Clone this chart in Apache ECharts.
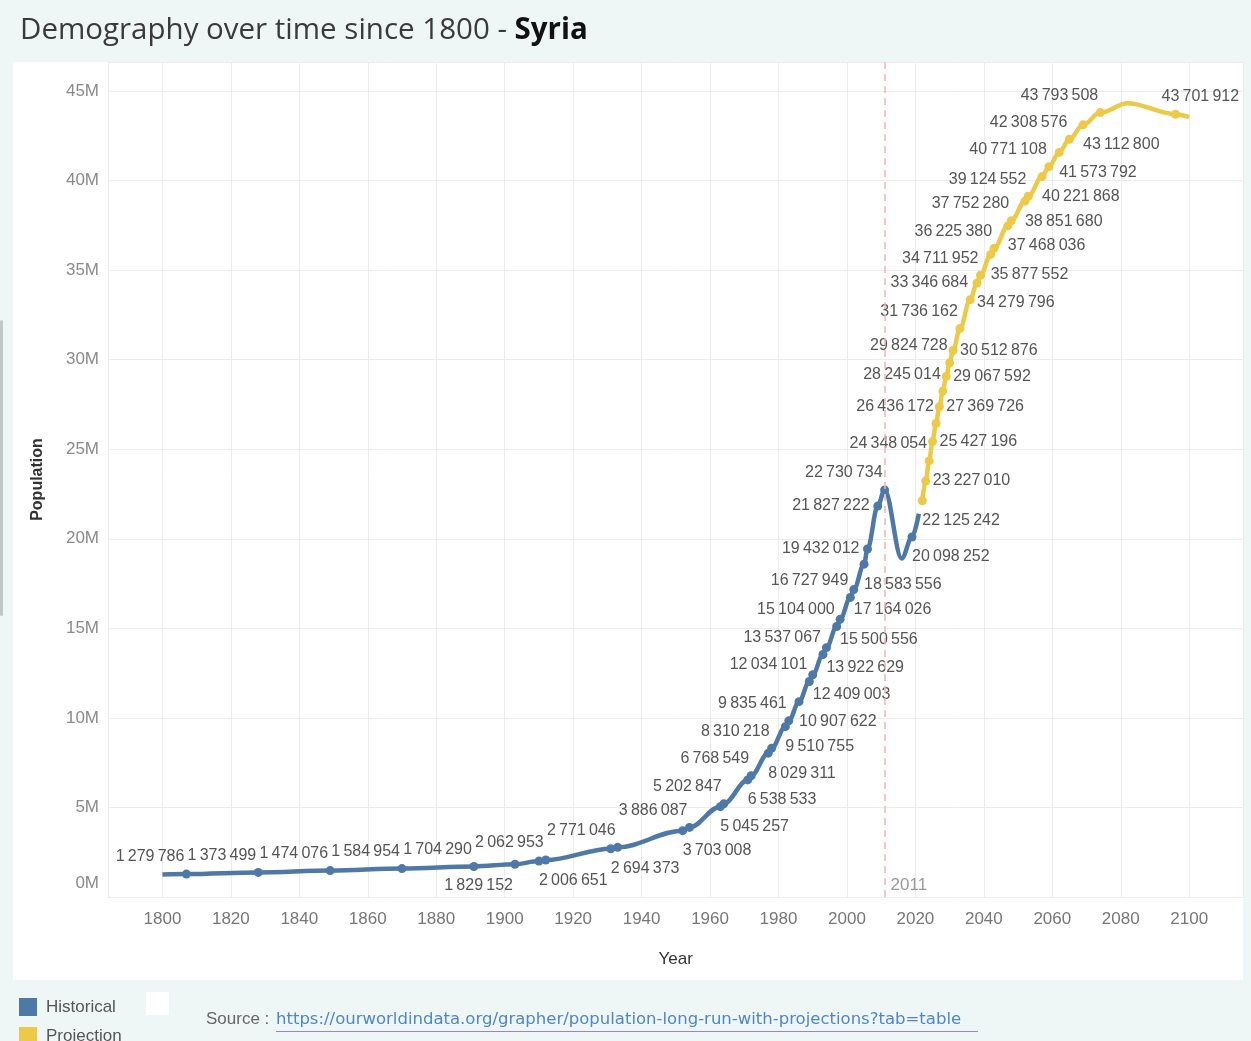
<!DOCTYPE html>
<html>
<head>
<meta charset="utf-8">
<script src="https://cdn.jsdelivr.net/npm/echarts@6/dist/echarts.min.js"></script>
<style>
  html, body { margin: 0; padding: 0; background: #eff7f6; }
  #wrap { position: relative; width: 1251px; height: 1041px; overflow: hidden; background: #eff7f6; }
  #panel { position: absolute; left: 13px; top: 62px; width: 1230px; height: 918px; background: #ffffff; }
  #scroll { position: absolute; left: 0px; top: 320px; width: 3px; height: 296px; background: #c3c6c6; border-radius: 2px; }
  #sq { position: absolute; left: 146px; top: 992px; width: 23px; height: 23px; background: #ffffff; }
  #chart { position: absolute; left: 0; top: 0; width: 1251px; height: 1041px; }
</style>
</head>
<body>
<div id="wrap">
  <div id="panel"></div>
  <div id="scroll"></div>
  <div id="sq"></div>
  <div id="chart"></div>
</div>
<script>
// ---------- data ----------
const histYears = [1807,1828,1849,1870,1891,1903,1910,1912,1931,1933,1952,1954,1963,1964,1971,1972,1977,1978,1982,1983,1986,1989,1990,1993,1994,1997,1998,2001,2002,2005,2006,2009,2011,2019];
const histValues = [1279786,1373499,1474076,1584954,1704290,1829152,2006651,2062953,2694373,2771046,3703008,3886087,5045257,5202847,6538533,6768549,8029311,8310218,9510755,9835461,10907622,12034101,12409003,13537067,13922629,15104000,15500556,16727949,17164026,18583556,19432012,21827222,22730734,20098252];
// unmarked points of the historical curve
const histLineYears = [1800, 2016, 2021];
const histLineValues = [1260000, 18900000, 21400000];

const projYears = [2022,2023,2024,2025,2026,2027,2028,2029,2030,2031,2033,2036,2038,2039,2042,2043,2047,2048,2052,2053,2057,2059,2062,2065,2069,2074,2096];
const projValues = [22125242,23227010,24348054,25427196,26436172,27369726,28245014,29067592,29824728,30512876,31736162,33346684,34279796,34711952,35877552,36225380,37468036,37752280,38851680,39124552,40221868,40771108,41573792,42308576,43112800,43793508,43701912];
// unmarked points of the projection curve
const projLineYears = [2082, 2100];
const projLineValues = [44320000, 43540000];

const yTicks = [0, 5, 10, 15, 20, 25, 30, 35, 40, 45];
const refYear = 2011;

// label placement (style only)
const histLabelSide = ['L','L','L','L','L','LB','RB','L','RB','L','RB','L','RB','L','RB','L','RB','L','RB','L','RB','L','RB','L','RB','L','RB','L','RB','RB','LM','LM','L','RB'];
const projLabelSide = ['RB','RM','L','RM','L','RM','L','RM','L','RM','L','L','RB','L','RB','L','RB','L','RB','L','RB','L','RB','L','RB','L','T'];

const SIDE = {
  L:  { align: 'right', offset: [-2, -17] },
  LB: { align: 'right', offset: [-2, 21] },
  RB: { align: 'left',  offset: [0, 20] },
  LM: { align: 'right', offset: [-8, 0] },
  RM: { align: 'left',  offset: [7, 0] },
  T:  { align: 'left',  offset: [-14, -18] }
};

const FONT = '"Liberation Sans", "DejaVu Sans", sans-serif';
const TITLE_FONT = '"Open Sans", "Liberation Sans", sans-serif';
const LINK_FONT = '"DejaVu Sans", "Liberation Sans", sans-serif';

function fmt(v) {
  return String(v).replace(/\B(?=(\d{3})+(?!\d))/g, '\u2009');
}

function buildData(years, values, sides, lineYears, lineValues) {
  const items = [];
  years.forEach((y, i) => {
    const s = SIDE[sides[i]];
    items.push({
      value: [y, values[i]],
      label: {
        show: true,
        position: 'inside',
        align: s.align,
        verticalAlign: 'middle',
        offset: s.offset,
        formatter: fmt(values[i])
      }
    });
  });
  lineYears.forEach((y, i) => {
    items.push({ value: [y, lineValues[i]], symbol: 'none', label: { show: false } });
  });
  items.sort((a, b) => a.value[0] - b.value[0]);
  return items;
}

const BLUE = '#4e79a7';
const YELLOW = '#edc948';

const labelStyle = {
  color: '#555555',
  fontSize: 16,
  fontFamily: FONT
};

const legendBase = {
  orient: 'vertical',
  left: 19,
  icon: 'rect',
  itemWidth: 18,
  itemHeight: 18,
  padding: 0,
  textStyle: { fontSize: 17, color: '#555555', fontFamily: FONT, padding: [0, 0, 0, 4] }
};

const chart = echarts.init(document.getElementById('chart'), null, { renderer: 'canvas' });

const option = {
  animation: false,
  backgroundColor: 'transparent',
  title: {
    left: 20,
    top: 16,
    padding: 0,
    text: '{a|Demography over time since 1800 - }{b|Syria}',
    textStyle: {
      rich: {
        a: { fontSize: 29.5, color: '#3a3a3a', fontFamily: TITLE_FONT, fontWeight: 'normal' },
        b: { fontSize: 29.5, color: '#111111', fontFamily: TITLE_FONT, fontWeight: 'bold' }
      }
    }
  },
  legend: [
    Object.assign({}, legendBase, { top: 998, data: ['Historical'] }),
    Object.assign({}, legendBase, { top: 1027, data: ['Projection'] })
  ],
  grid: { left: 108, right: 7.7, top: 62, bottom: 144, containLabel: false },
  xAxis: {
    type: 'value',
    min: 1784.1,
    max: 2115.8,
    minInterval: 20,
    maxInterval: 20,
    name: 'Year',
    nameLocation: 'middle',
    nameGap: 54,
    nameTextStyle: { fontSize: 17, color: '#333333', fontFamily: FONT },
    axisLine: { show: false },
    axisTick: { show: false },
    axisLabel: {
      margin: 14,
      fontSize: 17,
      color: '#777777',
      fontFamily: FONT,
      showMinLabel: false,
      showMaxLabel: false,
      formatter: v => (v % 20 === 0 ? String(v) : '')
    },
    splitLine: { show: true, lineStyle: { color: '#ececec', width: 1 } }
  },
  yAxis: {
    type: 'value',
    min: 0,
    max: 46.62e6,
    interval: 5e6,
    name: 'Population',
    nameLocation: 'middle',
    nameGap: 62,
    nameTextStyle: { fontSize: 16, color: '#333333', fontFamily: FONT, fontWeight: 'bold' },
    axisLine: { show: true, lineStyle: { color: '#ececec', width: 1 } },
    axisTick: { show: false },
    axisLabel: {
      margin: 9,
      fontSize: 17,
      color: '#8a8a8a',
      fontFamily: FONT,
      showMaxLabel: false,
      formatter: function (v) {
        const m = Math.round(v / 1e6);
        if (yTicks.indexOf(m) < 0 || Math.abs(v - m * 1e6) > 1) return '';
        if (m === 0) return '{z|0M}';
        return m + 'M';
      },
      rich: {
        z: { fontSize: 17, color: '#8a8a8a', fontFamily: FONT, padding: [0, 0, 27, 0] }
      }
    },
    splitLine: { show: true, lineStyle: { color: '#ececec', width: 1 } }
  },
  series: [
    {
      name: 'Historical',
      type: 'line',
      smooth: 0.35,
      smoothMonotone: 'x',
      symbol: 'circle',
      symbolSize: 9,
      showSymbol: true,
      showAllSymbol: true,
      color: BLUE,
      lineStyle: { color: BLUE, width: 4.5 },
      itemStyle: { color: BLUE },
      label: labelStyle,
      z: 3,
      data: buildData(histYears, histValues, histLabelSide, histLineYears, histLineValues),
      markLine: {
        silent: true,
        symbol: ['none', 'none'],
        label: { show: false },
        lineStyle: { color: '#f3b3b3', width: 1.5, type: [7, 5] },
        data: [{ xAxis: refYear }]
      },
      markPoint: {
        silent: true,
        symbol: 'circle',
        symbolSize: 0,
        data: [{
          coord: [refYear, 0],
          label: {
            show: true,
            position: 'inside',
            align: 'left',
            verticalAlign: 'middle',
            offset: [6, -12],
            formatter: String(refYear),
            color: '#9a9a9a',
            fontSize: 17,
            fontFamily: FONT
          }
        }]
      }
    },
    {
      name: 'Projection',
      type: 'line',
      smooth: 0.35,
      smoothMonotone: 'x',
      symbol: 'circle',
      symbolSize: 9,
      showSymbol: true,
      showAllSymbol: true,
      color: YELLOW,
      lineStyle: { color: YELLOW, width: 4.5 },
      itemStyle: { color: YELLOW },
      label: labelStyle,
      z: 4,
      data: buildData(projYears, projValues, projLabelSide, projLineYears, projLineValues)
    }
  ],
  graphic: [
    {
      type: 'text',
      left: 206,
      top: 1011,
      style: { text: 'Source :', fontSize: 17, fill: '#666666', fontFamily: FONT }
    },
    {
      type: 'text',
      left: 276,
      top: 1011,
      style: {
        text: 'https://ourworldindata.org/grapher/population-long-run-with-projections?tab=table',
        fontSize: 16.5, fill: '#4f86c6', fontFamily: LINK_FONT
      }
    },
    {
      type: 'rect',
      shape: { x: 276, y: 1031, width: 702, height: 1 },
      style: { fill: '#9a86c4' }
    }
  ]
};

chart.setOption(option);
</script>
</body>
</html>
